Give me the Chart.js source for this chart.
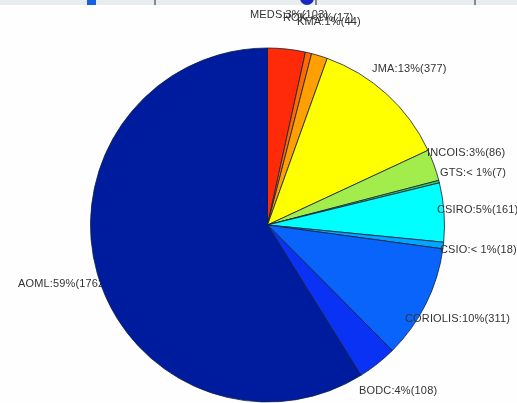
<!DOCTYPE html>
<html>
<head>
<meta charset="utf-8">
<script src="https://cdn.jsdelivr.net/npm/chart.js@4"></script>
<style>
  html, body { margin:0; padding:0; background:#fefefe; }
  #wrap { position:relative; width:517px; height:403px; overflow:hidden; }
  #strip { position:absolute; left:0; top:0; width:517px; height:5px; background:#e8edf0; overflow:hidden; }
  #strip i { position:absolute; top:0; height:5px; }
  #strip i.dot { top:-9px; width:14px; height:14px; border-radius:50%; }
  canvas { position:absolute; left:0; top:0; }
</style>
</head>
<body>
<div id="wrap">
  <div id="strip">
    <i style="left:87px;width:9px;background:#1560e0"></i>
    <i style="left:154px;width:2px;background:#888"></i>
    <i class="dot" style="left:300px;background:#1a2ac0"></i>
    <i style="left:315px;width:2px;background:#888"></i>
    <i style="left:474px;width:2px;background:#888"></i>
  </div>
  <canvas id="pie" width="517" height="403"></canvas>
</div>
<script>
// slices clockwise from 12 o'clock
const centres = ["MEDS","ROK","KMA","JMA","INCOIS","GTS","CSIRO","CSIO","CORIOLIS","BODC","AOML"];
const counts = [103,17,44,377,86,7,161,18,311,108,1762];
const labels = ["MEDS:3%(103)","ROK:<1%(17)","KMA:1%(44)","JMA:13%(377)","INCOIS:3%(86)","GTS:< 1%(7)","CSIRO:5%(161)","CSIO:< 1%(18)","CORIOLIS:10%(311)","BODC:4%(108)","AOML:59%(1762)"];
const colors = ["#ff2a08","#ff6a00","#ffa000","#ffff00","#a2ec4c","#30d060","#00ffff","#00a6ff","#0864fa","#0a32f5","#001c9e"];

// left edge / middle of each label, in page pixels
const labelX = [250,283,297,372,427,440,437,440,405,359,18];
const labelY = [15,18,22,69,153,173,210,250,319,391,284];

function drawLabel(ctx, i) {
  ctx.save();
  ctx.font = "11px 'Liberation Sans', Arial, sans-serif";
  ctx.letterSpacing = "0.15px";
  ctx.fillStyle = "#333";
  ctx.textAlign = "left";
  ctx.textBaseline = "middle";
  ctx.fillText(labels[i], labelX[i], labelY[i]);
  ctx.restore();
}

// AOML sits under the pie (its end gets covered), the rest on top
const pieLabels = {
  id:"pieLabels",
  beforeDatasetsDraw(c) { drawLabel(c.ctx, labels.length-1); },
  afterDatasetsDraw(c) { labels.forEach((l,i) => { if (i < labels.length-1) drawLabel(c.ctx, i); }); },
};

new Chart(document.getElementById("pie"), {
  type:"pie",
  data:{ labels:centres,
    datasets:[{ data:counts, backgroundColor:colors, borderColor:"#10203a", borderWidth:0.8, borderAlign:"center" }]},
  options:{ responsive:false, animation:false, radius:177,
    layout:{ padding:{ left:18, top:47, right:0, bottom:0 } },
    plugins:{ legend:{display:false}, tooltip:{enabled:false} } },
  plugins:[pieLabels],
});
</script>
</body>
</html>
